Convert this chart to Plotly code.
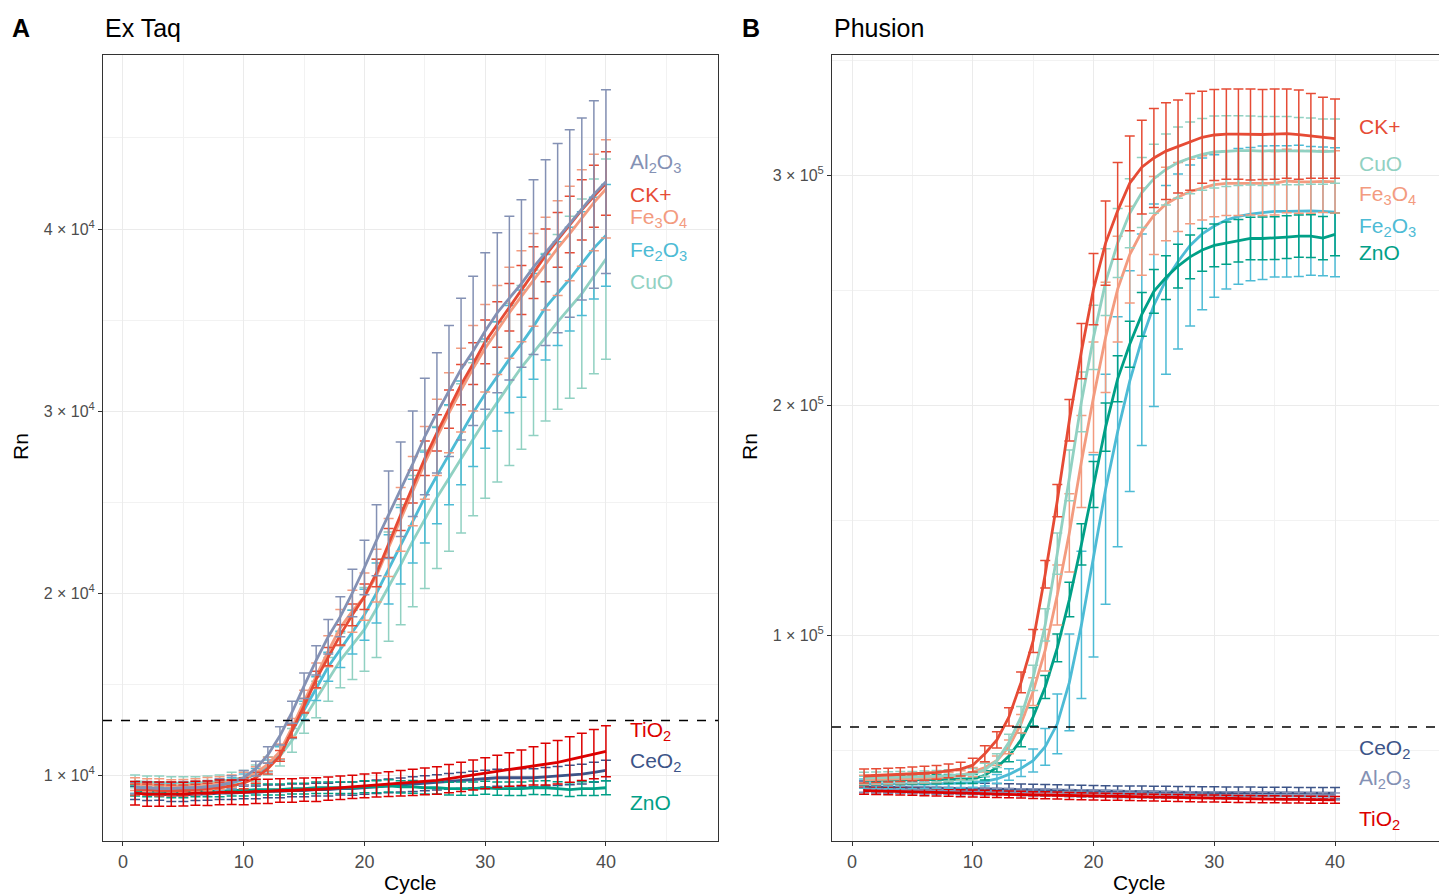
import plotly.graph_objects as go

cycles = list(range(1, 41))

# ---------------- Panel A : Ex Taq ----------------
taq_Al2O3_mean = [9300, 9300, 9250, 9250, 9300, 9300, 9350, 9450, 9600, 9850, 10350, 11100,
                  12150, 13450, 14900, 16300, 17600, 18700, 20000, 21400, 22900, 24300, 25700, 27100,
                  28600, 29900, 31100, 32300, 33300, 34400, 35400, 36200, 37000, 37900, 38700, 39500,
                  40300, 41100, 41900, 42600]
taq_Al2O3_sd = [350, 350, 340, 350, 350, 360, 350, 350, 360, 400, 400, 450,
                500, 600, 700, 800, 950, 1100, 1300, 1500, 1950, 2400, 2600, 2900,
                3200, 3300, 3600, 3900, 4100, 4300, 4400, 4500, 4600, 4800, 5100, 5200,
                5150, 5000, 5150, 5050]
taq_CK_mean = [9200, 9200, 9150, 9150, 9150, 9200, 9250, 9300, 9400, 9550, 9850, 10350,
               11050, 12400, 13800, 15250, 16500, 17700, 18800, 19800, 21100, 22750, 24300, 25850,
               27400, 28800, 30100, 31450, 32600, 33800, 34750, 35700, 36650, 37600, 38550, 39400,
               40250, 41050, 41800, 42500]
taq_CK_sd = [300, 300, 310, 300, 300, 290, 300, 300, 300, 300, 300, 300,
             300, 350, 400, 450, 500, 560, 600, 700, 750, 800, 860, 900,
             950, 1000, 1050, 1100, 1150, 1200, 1250, 1300, 1350, 1420, 1450, 1500,
             1550, 1650, 1700, 1750]
taq_Fe3O4_mean = [9500, 9450, 9450, 9400, 9400, 9450, 9500, 9550, 9650, 9800, 10100, 10600,
                  11300, 12600, 14050, 15450, 16800, 18100, 19000, 19800, 20950, 22500, 24050, 25600,
                  27150, 28550, 29900, 31150, 32350, 33450, 34450, 35400, 36300, 37200, 38100, 38950,
                  39750, 40600, 41450, 42200]
taq_Fe3O4_sd = [350, 350, 350, 340, 350, 350, 360, 350, 350, 350, 360, 370,
                400, 500, 600, 700, 850, 1000, 1150, 1300, 1450, 1600, 1750, 1900,
                2000, 2100, 2200, 2300, 2350, 2400, 2450, 2500, 2500, 2550, 2550, 2600,
                2600, 2650, 2650, 2700]
taq_Fe2O3_mean = [9300, 9300, 9250, 9250, 9300, 9300, 9350, 9450, 9550, 9750, 10050, 10500,
                  11200, 12400, 13550, 14750, 15950, 16900, 17850, 18800, 20000, 21300, 22600, 23950,
                  25250, 26450, 27600, 28800, 29900, 30950, 31900, 32850, 33700, 34650, 35700, 36450,
                  37250, 38100, 38950, 39650]
taq_Fe2O3_sd = [300, 300, 300, 310, 300, 300, 300, 300, 300, 300, 310, 320,
                350, 400, 500, 650, 800, 1000, 1200, 1400, 1650, 1900, 2100, 2300,
                2500, 2650, 2750, 2850, 2950, 3000, 3000, 2950, 2950, 2900, 2900, 2850,
                2850, 2850, 2800, 2800]
taq_CuO_mean = [9650, 9600, 9600, 9550, 9550, 9550, 9600, 9650, 9750, 9850, 10100, 10500,
                11050, 11900, 13100, 14150, 15250, 16300, 17150, 18000, 19150, 20350, 21550, 22850,
                24050, 25250, 26300, 27400, 28450, 29500, 30500, 31450, 32400, 33200, 34050, 34900,
                35700, 36450, 37400, 38350]
taq_CuO_sd = [350, 350, 350, 350, 350, 350, 350, 350, 400, 400, 450, 500,
              550, 650, 800, 1000, 1200, 1500, 1900, 2300, 2700, 3000, 3300, 3600,
              3800, 3900, 4000, 4100, 4200, 4300, 4400, 4450, 4500, 4550, 4600, 4800,
              5000, 5200, 5350, 5500]
taq_TiO2_mean = [9000, 8950, 8950, 8950, 8950, 9000, 9000, 9050, 9050, 9050, 9100, 9100,
                 9150, 9150, 9200, 9200, 9250, 9300, 9350, 9400, 9450, 9500, 9550, 9600,
                 9650, 9700, 9800, 9900, 10000, 10100, 10200, 10300, 10400, 10500, 10600, 10700,
                 10850, 11000, 11150, 11300]
taq_TiO2_sd = [650, 660, 670, 660, 650, 660, 670, 680, 670, 680, 670, 660,
               650, 650, 640, 650, 640, 650, 640, 650, 660, 680, 700, 720,
               740, 760, 780, 800, 820, 850, 880, 920, 980, 1050, 1150, 1200,
               1250, 1300, 1350, 1400]
taq_CeO2_mean = [9000, 8950, 8950, 8900, 8900, 8950, 8950, 9000, 9000, 9050, 9050, 9100,
                 9100, 9150, 9150, 9200, 9200, 9250, 9250, 9300, 9350, 9400, 9450, 9500,
                 9550, 9600, 9650, 9700, 9750, 9800, 9850, 9850, 9850, 9850, 9900, 9950,
                 10000, 10050, 10150, 10250]
taq_CeO2_sd = [350, 350, 340, 350, 350, 350, 340, 350, 350, 350, 350, 350,
               350, 350, 350, 350, 350, 350, 360, 360, 370, 380, 390, 400,
               410, 420, 430, 440, 450, 460, 470, 480, 490, 500, 510, 520,
               530, 540, 550, 560]
taq_ZnO_mean = [9150, 9100, 9100, 9050, 9050, 9100, 9100, 9100, 9150, 9150, 9200, 9200,
                9200, 9250, 9250, 9300, 9300, 9300, 9300, 9350, 9350, 9400, 9350, 9350,
                9300, 9300, 9250, 9250, 9250, 9300, 9250, 9250, 9250, 9300, 9300, 9250,
                9200, 9250, 9250, 9300]
taq_ZnO_sd = [300, 300, 300, 300, 300, 300, 300, 300, 300, 300, 300, 300,
              300, 300, 300, 310, 310, 320, 320, 330, 330, 340, 340, 350,
              350, 350, 350, 360, 360, 360, 360, 370, 370, 370, 380, 380,
              380, 380, 380, 380]

# ---------------- Panel B : Phusion ----------------
phu_CK_mean = [38700, 38900, 39100, 39300, 39600, 39900, 40300, 40900, 41700, 43400, 48400, 54400,
               64400, 79400, 97400, 126400, 158400, 193400, 223400, 250400, 270400, 284400, 296400, 303400,
               307400, 310400, 312400, 314400, 316400, 317400, 317800, 317800, 317600, 317600, 317800, 318000,
               317600, 317000, 316200, 315800]
phu_CK_sd = [3000, 3000, 3000, 3000, 3000, 3000, 3000, 3000, 3000, 3000, 3500, 3500,
             4000, 4500, 5000, 6000, 7000, 9000, 12000, 15500, 18300, 21000, 20600, 20400,
             21500, 21000, 20200, 21000, 20000, 19800, 19600, 19600, 19800, 19600, 19600, 19400,
             19400, 18400, 17600, 17200]
phu_CuO_mean = [37800, 37900, 38000, 38100, 38200, 38400, 38600, 38900, 39200, 39500, 41400, 45400,
                53400, 64400, 81400, 104400, 135400, 169400, 201400, 229400, 253400, 270400, 283400, 292400,
                298400, 302400, 305400, 307400, 309000, 310000, 310400, 310600, 310600, 310400, 310600, 310600,
                310400, 310400, 310200, 310400]
phu_CuO_sd = [2500, 2500, 2500, 2500, 2500, 2500, 2500, 2500, 2500, 2500, 2800, 3000,
              3500, 4500, 5500, 7000, 9000, 11000, 13000, 14000, 14500, 15000, 15000, 15200,
              15000, 15400, 15500, 15600, 15600, 15600, 15400, 15200, 15000, 15000, 14800, 14800,
              14600, 14400, 14200, 14000]
phu_Fe3O4_mean = [37000, 37100, 37200, 37300, 37400, 37600, 37900, 38300, 39000, 40400, 42400, 45400,
                  51400, 61400, 75400, 93400, 117400, 144400, 175400, 203400, 229400, 250400, 265400, 275400,
                  282400, 287400, 290400, 292800, 294400, 295800, 296400, 296400, 296600, 296400, 296400, 297400,
                  297000, 297000, 297200, 297000]
phu_Fe3O4_sd = [2000, 2000, 2000, 2000, 2000, 2000, 2000, 2000, 2000, 2000, 2000, 2000,
                3000, 4000, 6000, 9000, 13000, 17000, 20000, 24000, 24000, 23000, 21000, 19000,
                17000, 16000, 15000, 14000, 14000, 14000, 14000, 14000, 14000, 14000, 13800, 13800,
                13600, 13600, 13500, 13500]
phu_Fe2O3_mean = [35400, 35300, 35200, 35200, 35200, 35200, 35300, 35400, 35600, 35800, 36400, 37400,
                  39400, 42000, 45400, 51400, 61400, 79400, 104400, 134400, 163400, 188400, 210400, 228400,
                  243400, 254400, 262400, 269400, 274400, 277800, 280400, 282000, 283000, 283600, 284200, 284200,
                  284400, 284400, 284200, 283800]
phu_Fe2O3_sd = [2000, 2000, 2000, 2000, 2000, 2000, 2000, 2000, 2000, 2000, 2000, 2000,
                2500, 3500, 5000, 8000, 13000, 21000, 32000, 44000, 50000, 50000, 48000, 46000,
                44000, 41000, 38000, 35000, 33000, 31000, 30000, 29500, 29000, 29000, 28500, 28500,
                28500, 28000, 28000, 28000]
phu_ZnO_mean = [36800, 36900, 37000, 37000, 37100, 37200, 37300, 37400, 37400, 37400, 39000, 42400,
                47400, 54400, 64400, 77400, 94400, 115400, 139400, 165400, 190400, 211400, 226400, 239400,
                249400, 255400, 260400, 264400, 267400, 269400, 270400, 271400, 272400, 272400, 272600, 273000,
                273400, 273400, 272600, 274200]
phu_ZnO_sd = [2000, 2000, 2000, 2000, 2000, 2000, 2000, 2000, 2000, 2000, 2000, 2000,
              2500, 3000, 4000, 5000, 6000, 7500, 9000, 10000, 10500, 10000, 10000, 9500,
              9500, 9500, 9500, 9500, 9300, 9300, 9200, 9200, 9200, 9300, 9300, 9300,
              9200, 9300, 9400, 9300]
phu_CeO2_mean = [34000, 33900, 33800, 33700, 33600, 33500, 33400, 33300, 33200, 33100, 33000, 32900,
                 32800, 32700, 32600, 32500, 32400, 32300, 32200, 32100, 32000, 31900, 31900, 31800,
                 31700, 31700, 31600, 31600, 31500, 31500, 31400, 31400, 31400, 31300, 31300, 31300,
                 31200, 31200, 31200, 31200]
phu_CeO2_sd = [2500] * 40
phu_Al2O3_mean = [33000, 32900, 32800, 32700, 32600, 32500, 32400, 32300, 32200, 32100, 32000, 31900,
                  31800, 31700, 31600, 31500, 31400, 31300, 31200, 31100, 31000, 30900, 30800, 30700,
                  30600, 30500, 30500, 30400, 30400, 30300, 30300, 30200, 30200, 30100, 30100, 30000,
                  30000, 29900, 29900, 29800]
phu_Al2O3_sd = [1500] * 40
phu_TiO2_mean = [32300, 32200, 32000, 31900, 31800, 31600, 31500, 31400, 31200, 31100, 31000, 30800,
                 30700, 30600, 30400, 30300, 30200, 30000, 29900, 29800, 29700, 29600, 29500, 29400,
                 29300, 29200, 29100, 29000, 28900, 28900, 28800, 28700, 28700, 28600, 28600, 28500,
                 28500, 28400, 28400, 28300]
phu_TiO2_sd = [1500] * 40

# thresholds
taq_threshold = 13000
phu_threshold = 60000

colors = {
    "CK+": "#E64B35", "Fe2O3": "#4DBBD5", "ZnO": "#00A087", "CeO2": "#3C5488",
    "Fe3O4": "#F39B7F", "Al2O3": "#8491B4", "CuO": "#91D1C2", "TiO2": "#DC0000",
}
label_text = {
    "CK+": "CK+", "Fe2O3": "Fe<sub>2</sub>O<sub>3</sub>", "ZnO": "ZnO",
    "CeO2": "CeO<sub>2</sub>", "Fe3O4": "Fe<sub>3</sub>O<sub>4</sub>",
    "Al2O3": "Al<sub>2</sub>O<sub>3</sub>", "CuO": "CuO", "TiO2": "TiO<sub>2</sub>",
}

taq_series = [
    ("CeO2", taq_CeO2_mean, taq_CeO2_sd),
    ("ZnO", taq_ZnO_mean, taq_ZnO_sd),
    ("CuO", taq_CuO_mean, taq_CuO_sd),
    ("Fe2O3", taq_Fe2O3_mean, taq_Fe2O3_sd),
    ("Fe3O4", taq_Fe3O4_mean, taq_Fe3O4_sd),
    ("CK+", taq_CK_mean, taq_CK_sd),
    ("Al2O3", taq_Al2O3_mean, taq_Al2O3_sd),
    ("TiO2", taq_TiO2_mean, taq_TiO2_sd),
]
phu_series = [
    ("CeO2", phu_CeO2_mean, phu_CeO2_sd),
    ("Al2O3", phu_Al2O3_mean, phu_Al2O3_sd),
    ("TiO2", phu_TiO2_mean, phu_TiO2_sd),
    ("Fe2O3", phu_Fe2O3_mean, phu_Fe2O3_sd),
    ("ZnO", phu_ZnO_mean, phu_ZnO_sd),
    ("Fe3O4", phu_Fe3O4_mean, phu_Fe3O4_sd),
    ("CuO", phu_CuO_mean, phu_CuO_sd),
    ("CK+", phu_CK_mean, phu_CK_sd),
]

# label anchor positions (layout)
label_x = 41.8
taq_label_y = {"Al2O3": 43600, "CK+": 41900, "Fe3O4": 40600, "Fe2O3": 38800, "CuO": 37100,
               "TiO2": 12400, "CeO2": 10700, "ZnO": 8500}
phu_label_y = {"CK+": 320900, "CuO": 304800, "Fe3O4": 291300, "Fe2O3": 277400, "ZnO": 266100,
               "CeO2": 50400, "Al2O3": 37400, "TiO2": 19600}

FONT = "Liberation Sans, Arial, sans-serif"
W, H = 1439, 894

fig = go.Figure()

for name, mean, sd in taq_series:
    fig.add_trace(go.Scatter(
        x=cycles, y=mean, mode="lines", xaxis="x", yaxis="y",
        line=dict(color=colors[name], width=2.8),
        error_y=dict(type="data", array=sd, visible=True, color=colors[name], thickness=1.5, width=5),
        showlegend=False, hoverinfo="skip"))
for name, mean, sd in phu_series:
    fig.add_trace(go.Scatter(
        x=cycles, y=mean, mode="lines", xaxis="x2", yaxis="y2",
        line=dict(color=colors[name], width=2.8),
        error_y=dict(type="data", array=sd, visible=True, color=colors[name], thickness=1.5, width=5),
        showlegend=False, hoverinfo="skip"))

annotations = []
for name, yv in taq_label_y.items():
    annotations.append(dict(x=label_x, y=yv, xref="x", yref="y", text=label_text[name],
                            showarrow=False, xanchor="left", yanchor="middle",
                            font=dict(family=FONT, size=21, color=colors[name])))
for name, yv in phu_label_y.items():
    annotations.append(dict(x=label_x, y=yv, xref="x2", yref="y2", text=label_text[name],
                            showarrow=False, xanchor="left", yanchor="middle",
                            font=dict(family=FONT, size=21, color=colors[name])))


def px(xp):
    return xp / W


def py(yp):
    return 1 - yp / H


for txt, xp, bold in [("A", 10, True), ("Ex Taq", 103, False), ("B", 740, True), ("Phusion", 832, False)]:
    annotations.append(dict(x=px(xp), y=py(28), xref="paper", yref="paper",
                            text=f"<b>{txt}</b>" if bold else txt, showarrow=False,
                            xanchor="left", yanchor="middle",
                            font=dict(family=FONT, size=25, color="black")))
for xc in (410, 1139):
    annotations.append(dict(x=px(xc), y=py(882), xref="paper", yref="paper", text="Cycle",
                            showarrow=False, xanchor="center", yanchor="middle",
                            font=dict(family=FONT, size=21, color="black")))
for xc in (20, 749):
    annotations.append(dict(x=px(xc), y=py(447), xref="paper", yref="paper", text="Rn",
                            showarrow=False, xanchor="center", yanchor="middle", textangle=-90,
                            font=dict(family=FONT, size=21, color="black")))

shapes = [
    dict(type="line", xref="x domain", x0=0, x1=1, yref="y", y0=taq_threshold, y1=taq_threshold,
         line=dict(color="black", width=1.5, dash="dash")),
    dict(type="line", xref="x2 domain", x0=0, x1=1, yref="y2", y0=phu_threshold, y1=phu_threshold,
         line=dict(color="black", width=1.5, dash="dash")),
]

ydom = [1 - 841 / H, 1 - 55 / H]
xcommon = dict(tickmode="array", tickvals=[0, 10, 20, 30, 40], ticktext=["0", "10", "20", "30", "40"],
               showgrid=True, gridcolor="#EBEBEB", gridwidth=1.1,
               minor=dict(tick0=0, dtick=5, showgrid=True, gridcolor="#F2F2F2", gridwidth=0.6),
               ticks="outside", ticklen=4, tickcolor="#333333", tickwidth=1,
               tickfont=dict(family=FONT, size=18, color="#4D4D4D"),
               showline=True, linecolor="#333333", linewidth=1, mirror=True, zeroline=False)

fig.update_layout(
    width=W, height=H, margin=dict(l=0, r=0, t=0, b=0),
    paper_bgcolor="white", plot_bgcolor="white",
    xaxis=dict(domain=[103 / W, 718 / W], range=[-1.656, 49.28], anchor="y", **xcommon),
    xaxis2=dict(domain=[832 / W, 1.0], range=[-1.656, 48.61], anchor="y2", **xcommon),
    yaxis=dict(domain=ydom, range=[6374, 49560], anchor="x",
               tickmode="array", tickvals=[10000, 20000, 30000, 40000],
               ticktext=["1 × 10<sup>4</sup>", "2 × 10<sup>4</sup>", "3 × 10<sup>4</sup>", "4 × 10<sup>4</sup>"],
               showgrid=True, gridcolor="#EBEBEB", gridwidth=1.1,
               minor=dict(tick0=0, dtick=5000, showgrid=True, gridcolor="#F2F2F2", gridwidth=0.6),
               ticks="outside", ticklen=4, tickcolor="#333333", tickwidth=1,
               tickfont=dict(family=FONT, size=16, color="#4D4D4D"),
               showline=True, linecolor="#333333", linewidth=1, mirror=True, zeroline=False),
    yaxis2=dict(domain=ydom, range=[10435, 352174], anchor="x2",
                tickmode="array", tickvals=[100000, 200000, 300000],
                ticktext=["1 × 10<sup>5</sup>", "2 × 10<sup>5</sup>", "3 × 10<sup>5</sup>"],
                showgrid=True, gridcolor="#EBEBEB", gridwidth=1.1,
                minor=dict(tick0=0, dtick=50000, showgrid=True, gridcolor="#F2F2F2", gridwidth=0.6),
                ticks="outside", ticklen=4, tickcolor="#333333", tickwidth=1,
                tickfont=dict(family=FONT, size=16, color="#4D4D4D"),
                showline=True, linecolor="#333333", linewidth=1, mirror=False, zeroline=False),
    annotations=annotations, shapes=shapes,
)

fig.write_html("out.html", config={"displayModeBar": False},
               post_script="document.body.style.margin='0px';document.body.style.overflow='hidden';")
